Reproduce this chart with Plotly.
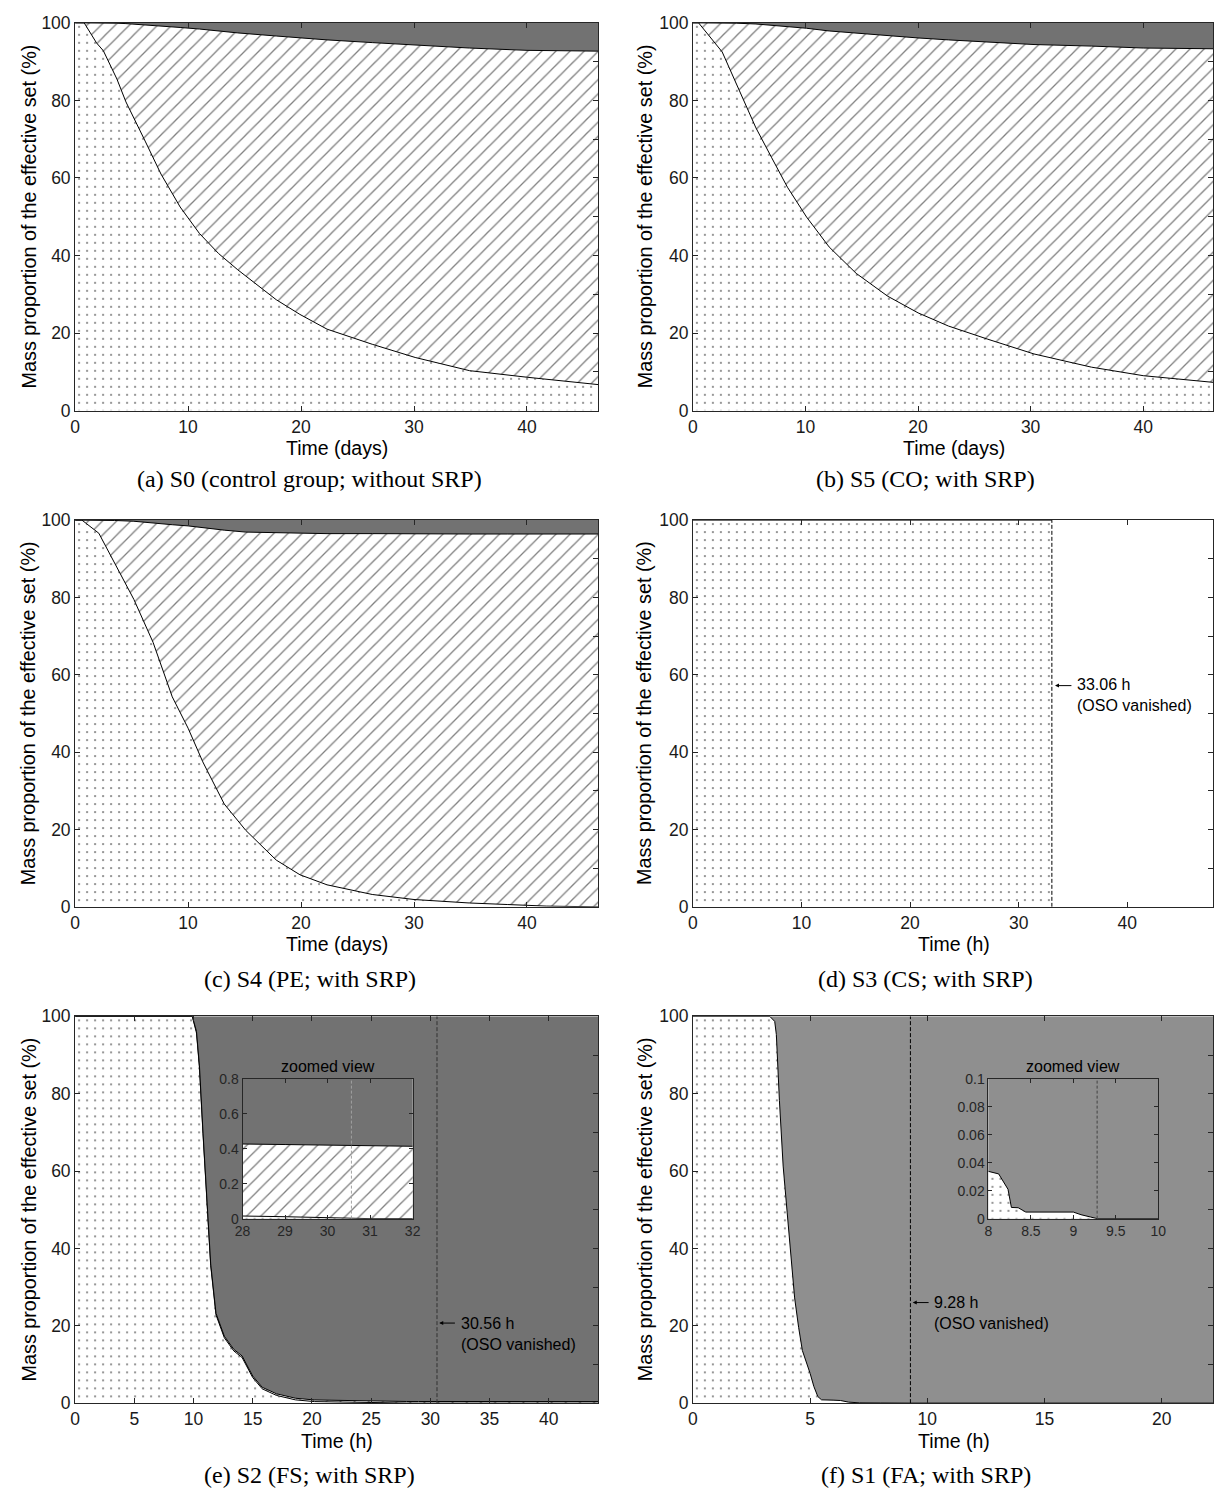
import plotly.graph_objects as go

W, H = 1221, 1497

# ---------------- data (boundaries of the stacked layers, % of effective set) ----------------
# (a) S0 - control group, time in days
a_time = [0, 0.8, 1.9, 2.5, 3.7, 4.5, 6.2, 7.6, 9.3, 11.0, 12.7, 14.4, 17.8, 19.9, 22.3, 26.3, 30.1, 34.9, 40.0, 46.3]
a_dotted_top = [100, 100, 94.8, 92.8, 85.5, 79.6, 69.5, 61.0, 52.5, 45.7, 40.5, 36.3, 28.6, 24.8, 21.0, 17.1, 13.7, 10.3, 8.6, 6.7]
a_hatched_top = [100, 100, 100, 100, 99.9, 99.8, 99.5, 99.2, 98.8, 98.4, 97.9, 97.4, 96.6, 96.1, 95.6, 94.9, 94.2, 93.5, 92.9, 92.7]

# (b) S5 - CO, time in days
b_time = [0, 0.5, 2.6, 3.9, 5.6, 7.0, 8.4, 10.1, 12.1, 14.5, 17.3, 20.0, 22.7, 26.2, 30.3, 35.4, 40.0, 46.5]
b_dotted_top = [100, 100, 92.5, 83.8, 72.9, 65.2, 57.6, 49.9, 42.2, 35.4, 29.5, 25.2, 21.8, 18.4, 14.6, 11.2, 9.0, 7.2]
b_hatched_top = [100, 100, 100, 99.9, 99.7, 99.4, 99.0, 98.6, 97.9, 97.3, 96.7, 96.1, 95.6, 95.0, 94.4, 94.0, 93.5, 93.3]

# (c) S4 - PE, time in days
c_time = [0, 0.6, 2.1, 3.5, 5.2, 6.9, 8.6, 10.0, 11.3, 13.2, 15.1, 17.8, 19.9, 22.3, 26.3, 30.0, 34.9, 38.3, 41.7, 46.3]
c_dotted_top = [100, 100, 96.6, 88.9, 79.5, 68.4, 54.3, 46.2, 37.5, 26.6, 19.8, 12.1, 8.3, 5.7, 3.2, 1.9, 1.0, 0.6, 0.2, 0.0]
c_hatched_top = [100, 100, 100, 99.9, 99.7, 99.2, 98.8, 98.5, 98.0, 97.4, 96.9, 96.7, 96.6, 96.5, 96.5, 96.4, 96.4, 96.4, 96.4, 96.4]

# (d) S3 - CS, time in hours
d_time = [0, 33.06]
d_dotted_top = [100, 100]
d_vanish = 33.06

# (e) S2 - FS, time in hours
e_time = [0, 9.9, 10.25, 10.5, 10.8, 11.1, 11.45, 11.9, 12.6, 13.4, 14.1, 15.0, 15.8, 17.0, 18.6, 20.2, 23.5, 26.7,
          28.0, 29.0, 30.0, 30.5, 31.0, 32.0, 44.2]
e_dotted_top = [100, 100, 95.7, 86.8, 69.7, 52.6, 35.6, 22.8, 16.9, 13.5, 11.8, 6.6, 3.7, 2.0, 0.85, 0.4, 0.17, 0.05,
                0.015, 0.011, 0.006, 0.0, 0.0, 0.0, 0.0]
e_hatched_top = [100, 100, 96.1, 87.2, 70.1, 53.0, 36.0, 23.2, 17.3, 13.9, 12.2, 7.0, 4.1, 2.42, 1.27, 0.82, 0.59, 0.47,
                 0.427, 0.424, 0.42, 0.418, 0.416, 0.414, 0.41]
e_vanish = 30.56

# (f) S1 - FA, time in hours
f_time = [0, 3.28, 3.49, 3.56, 3.69, 3.85, 4.02, 4.18, 4.34, 4.51, 4.67, 5.0, 5.16, 5.33, 5.49, 5.98, 6.3, 6.64, 7.1,
          8.0, 8.09, 8.12, 8.23, 8.27, 8.35, 8.44, 9.0, 9.05, 9.09, 9.2, 9.28, 22.3]
f_dotted_top = [100, 100, 98.7, 95.3, 78.3, 61.3, 49.4, 37.4, 27.2, 19.6, 13.6, 7.7, 4.3, 1.7, 0.85, 0.77, 0.68, 0.26, 0.08,
                0.0338, 0.0324, 0.032, 0.021, 0.008, 0.0078, 0.0047, 0.0047, 0.0035, 0.0028, 0.0012, 0.0, 0.0]
f_vanish = 9.28

captions = ["(a) S0 (control group; without SRP)", "(b) S5 (CO; with SRP)", "(c) S4 (PE; with SRP)",
            "(d) S3 (CS; with SRP)", "(e) S2 (FS; with SRP)", "(f) S1 (FA; with SRP)"]
x_titles = ["Time (days)", "Time (days)", "Time (days)", "Time (h)", "Time (h)", "Time (h)"]
y_title = "Mass proportion of the effective set (%)"
y_ticks = [0, 20, 40, 60, 80, 100]
x_ticks_days = [0, 10, 20, 30, 40]
x_ticks_e = [0, 5, 10, 15, 20, 25, 30, 35, 40]
x_ticks_f = [0, 5, 10, 15, 20]
inset_e_xticks = [28, 29, 30, 31, 32]
inset_e_yticks = [0, 0.2, 0.4, 0.6, 0.8]
inset_f_xticks = [8, 8.5, 9, 9.5, 10]
inset_f_yticks = [0, 0.02, 0.04, 0.06, 0.08, 0.1]

# ---------------- styles ----------------
SANS = "Liberation Sans, Arial, Helvetica, sans-serif"
SERIF = "Liberation Serif, Times New Roman, serif"
AX = "#262626"
GRAY_DARK = "#727272"
GRAY_LIGHT = "#8f8f8f"
DOTS = dict(shape=".", size=8, solidity=0.06, fgcolor="black", bgcolor="white")
HATCH = dict(shape="/", size=10, solidity=0.13, fgcolor="black", bgcolor="white")

fig = go.Figure()


def px2x(px):
    return px / W


def px2y(py):
    return 1 - py / H


def add_stack(xa, ya, t, dotted, hatched, gray):
    fig.add_trace(go.Scatter(x=t, y=dotted, mode="lines", line=dict(color="black", width=1),
                             fill="tozeroy", fillcolor="white", fillpattern=DOTS,
                             xaxis=xa, yaxis=ya, showlegend=False, hoverinfo="skip"))
    if hatched is not None:
        fig.add_trace(go.Scatter(x=t, y=hatched, mode="lines", line=dict(color="black", width=1),
                                 fill="tonexty", fillcolor="white", fillpattern=HATCH,
                                 xaxis=xa, yaxis=ya, showlegend=False, hoverinfo="skip"))
    if gray is not None:
        fig.add_trace(go.Scatter(x=t, y=[100] * len(t), mode="lines", line=dict(width=0, color=gray),
                                 fill="tonexty", fillcolor=gray,
                                 xaxis=xa, yaxis=ya, showlegend=False, hoverinfo="skip"))


def add_vline(xa, ya, x0, color, dash):
    fig.add_trace(go.Scatter(x=[x0, x0], y=[0, 100], mode="lines", line=dict(color=color, width=1, dash=dash),
                             xaxis=xa, yaxis=ya, showlegend=False, hoverinfo="skip"))


# main panels
add_stack("x", "y", a_time, a_dotted_top, a_hatched_top, GRAY_DARK)
add_stack("x2", "y2", b_time, b_dotted_top, b_hatched_top, GRAY_DARK)
add_stack("x3", "y3", c_time, c_dotted_top, c_hatched_top, GRAY_DARK)
add_stack("x4", "y4", d_time, d_dotted_top, None, None)
add_vline("x4", "y4", d_vanish, "black", "4px,2px")
add_stack("x5", "y5", e_time, e_dotted_top, e_hatched_top, GRAY_DARK)
add_vline("x5", "y5", e_vanish, "#333333", "4px,2px")
add_stack("x6", "y6", f_time, f_dotted_top, None, GRAY_LIGHT)
add_vline("x6", "y6", f_vanish, "black", "4px,2px")
# insets
add_stack("x7", "y7", e_time, e_dotted_top, e_hatched_top, GRAY_DARK)
add_vline("x7", "y7", e_vanish, "#a0a0a0", "3px,2px")
add_stack("x8", "y8", f_time, f_dotted_top, None, GRAY_LIGHT)
add_vline("x8", "y8", f_vanish, "#444444", "3px,2px")

# geometry (px)
left_x = (68, 598)
right_x = (694, 1221)
rows_y = [(13, 406), (517, 909), (1020, 1412)]
ranges = [[0, 46.3], [0, 46.2], [0, 46.3], [0, 47.9], [0, 44.17], [0, 22.19]]
xticks = [x_ticks_days, x_ticks_days, x_ticks_days, x_ticks_days, x_ticks_e, x_ticks_f]

layout = dict(width=W, height=H, margin=dict(l=0, r=0, t=0, b=0),
              paper_bgcolor="white", plot_bgcolor="white", showlegend=False,
              font=dict(family=SANS, color=AX))
annotations = []
for i in range(6):
    n = i + 1
    col = i % 2
    row = i // 2
    xd = left_x if col == 0 else right_x
    yd = rows_y[row]
    sfx = "" if n == 1 else str(n)
    layout["xaxis" + sfx] = dict(domain=[px2x(xd[0]), px2x(xd[1])], range=ranges[i], anchor="y" + sfx,
                                 tickvals=xticks[i], ticks="inside", ticklen=5, tickwidth=1, tickcolor=AX,
                                 showline=True, linecolor=AX, linewidth=1, mirror="ticks",
                                 showgrid=False, zeroline=False, tickfont=dict(size=17.5, color="#1a1a1a", family=SANS))
    layout["yaxis" + sfx] = dict(domain=[px2y(yd[1]), px2y(yd[0])], range=[0, 100], anchor="x" + sfx,
                                 tickvals=y_ticks, ticks="inside", ticklen=5, tickwidth=1, tickcolor=AX,
                                 showline=True, linecolor=AX, linewidth=1, mirror=True,
                                 showgrid=False, zeroline=False, tickfont=dict(size=17.5, color="#1a1a1a", family=SANS))
    # right-hand tick marks every 10 %
    k = 8 + n
    layout["yaxis%d" % k] = dict(overlaying="y" + sfx, side="right", anchor="x" + sfx, range=[0, 100],
                                 dtick=10, ticks="inside", ticklen=5, tickwidth=1, tickcolor=AX,
                                 showticklabels=False, showline=False, showgrid=False, zeroline=False)
    fig.add_trace(go.Scatter(x=[ranges[i][0]], y=[0], mode="markers", marker=dict(size=1, opacity=0),
                             xaxis="x" + sfx, yaxis="y%d" % k, showlegend=False, hoverinfo="skip"))
    # axis titles
    full_right = 1224 if col else xd[1]
    xc = ((xd[0] + full_right) / 2 - xd[0]) / (xd[1] - xd[0])
    annotations.append(dict(text=x_titles[i], xref="x%s domain" % sfx, yref="paper", x=xc,
                            y=px2y(yd[1] + 38), xanchor="center", yanchor="middle", showarrow=False,
                            font=dict(size=19.5, color="black", family=SANS)))
    annotations.append(dict(text=y_title, xref="paper", yref="paper", x=px2x(21 if col == 0 else 645),
                            y=px2y((yd[0] + yd[1]) / 2), textangle=-90, xanchor="center", yanchor="middle",
                            showarrow=False, font=dict(size=19.8, color="black", family=SANS)))
    # captions
    annotations.append(dict(text=captions[i], xref="paper", yref="paper", x=px2x(306 if col == 0 else 930),
                            y=px2y([475, 982, 1485][row]), xanchor="center", yanchor="middle", showarrow=False,
                            font=dict(size=24, color="black", family=SERIF)))

# insets
inset_common = dict(ticks="inside", ticklen=4, tickwidth=1, tickcolor=AX, showline=True, linecolor=AX,
                    linewidth=1, mirror="ticks", showgrid=False, zeroline=False,
                    tickfont=dict(size=14, color=AX, family=SANS))
layout["xaxis7"] = dict(domain=[px2x(237.7), px2x(410)], range=[28, 32], anchor="y7", tickvals=inset_e_xticks,
                        **inset_common)
layout["yaxis7"] = dict(domain=[px2y(1225), px2y(1083.3)], range=[0, 0.8], anchor="x7", tickvals=inset_e_yticks,
                        ticktext=["0", "0.2", "0.4", "0.6", "0.8"], **inset_common)
layout["xaxis8"] = dict(domain=[px2x(993.5), px2x(1165.5)], range=[8, 10], anchor="y8", tickvals=inset_f_xticks,
                        ticktext=["8", "8.5", "9", "9.5", "10"], **inset_common)
layout["yaxis8"] = dict(domain=[px2y(1225), px2y(1083.3)], range=[0, 0.1], anchor="x8", tickvals=inset_f_yticks,
                        ticktext=["0", "0.02", "0.04", "0.06", "0.08", "0.1"], **inset_common)
for cx in (323.9, 1079.5):
    annotations.append(dict(text="zoomed view", xref="paper", yref="paper", x=px2x(cx), y=px2y(1071),
                            xanchor="center", yanchor="middle", showarrow=False,
                            font=dict(size=16, color="black", family=SANS)))

# vanish-time annotations (arrow + two-line label)
for xr, yr, label, head, tail, txt_x, y_arrow, y_mid in [
    ("x4", "y4", "33.06 h", 33.35, 35.0, 35.15, 57.2, 54.65),
    ("x5", "y5", "30.56 h", 30.75, 32.2, 32.45, 20.7, 17.95),
    ("x6", "y6", "9.28 h", 9.38, 10.12, 10.2, 26.0, 23.3),
]:
    annotations.append(dict(text="", xref=xr, yref=yr, x=head, y=y_arrow, axref=xr, ayref=yr, ax=tail, ay=y_arrow,
                            showarrow=True, arrowhead=2, arrowsize=0.8, arrowwidth=1, arrowcolor="black"))
    annotations.append(dict(text=label + "<br>(OSO vanished)", xref=xr, yref=yr, x=txt_x, y=y_mid,
                            xanchor="left", yanchor="middle", align="left", showarrow=False,
                            font=dict(size=16, color="black", family=SANS)))

layout["annotations"] = annotations
fig.update_layout(**layout)
fig.write_html("out.html")
